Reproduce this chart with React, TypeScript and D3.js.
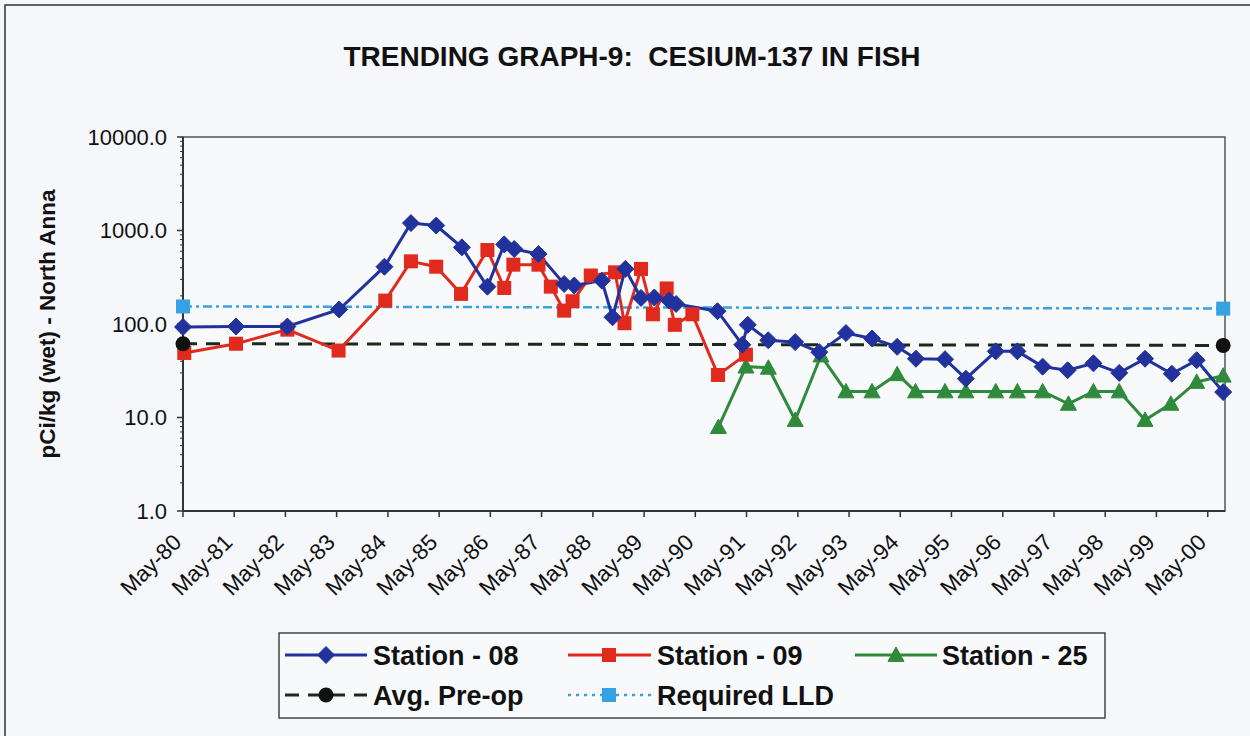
import React from "react";
import * as d3 from "d3";

// ---- Data ----
const title = "TRENDING GRAPH-9:  CESIUM-137 IN FISH";
const yAxisTitle = "pCi/kg (wet) - North Anna";
const xTickLabels = [
  "May-80", "May-81", "May-82", "May-83", "May-84", "May-85", "May-86",
  "May-87", "May-88", "May-89", "May-90", "May-91", "May-92", "May-93",
  "May-94", "May-95", "May-96", "May-97", "May-98", "May-99", "May-00",
];
const yTickValues = [1, 10, 100, 1000, 10000];
const xDomain = ["1980-05-01", "2000-09-01"];

const station08Dates = [
  "1980-05-01", "1981-05-14", "1982-05-15", "1983-05-19", "1984-04-06", "1984-10-12",
  "1985-04-10", "1985-10-10", "1986-04-10", "1986-08-08", "1986-10-18", "1987-04-09",
  "1987-10-09", "1987-12-20", "1988-07-04", "1988-09-18", "1988-12-18", "1989-04-09",
  "1989-07-13", "1989-10-25", "1989-12-15", "1990-10-06", "1991-04-01", "1991-05-10",
  "1991-10-03", "1992-04-12", "1992-10-01", "1993-04-09", "1993-10-12", "1994-04-09",
  "1994-08-21", "1995-03-16", "1995-08-12", "1996-03-12", "1996-08-13", "1997-02-09",
  "1997-08-06", "1998-02-06", "1998-08-09", "1999-02-09", "1999-08-19", "2000-02-12",
  "2000-08-19",
];
const station08Values = [
  93, 94, 94, 143, 410, 1200,
  1130, 660, 251, 710, 634, 560,
  268, 258, 291, 118, 388, 190,
  192, 178, 164, 137, 60, 98,
  67, 64, 50, 80, 70, 57,
  42.5, 42, 26, 51, 51, 35,
  32, 38, 30, 42.5, 29.4, 41,
  18.7,
];

const station09Dates = [
  "1980-05-10", "1981-05-14", "1982-05-15", "1983-05-15", "1984-04-12", "1984-10-12",
  "1985-04-10", "1985-10-04", "1986-04-10", "1986-08-08", "1986-10-12", "1987-04-09",
  "1987-07-06", "1987-10-09", "1987-12-08", "1988-04-16", "1988-10-06", "1988-12-12",
  "1989-04-09", "1989-07-03", "1989-10-09", "1989-12-06", "1990-04-10", "1990-10-10",
  "1991-04-27",
];
const station09Values = [
  49, 61.5, 87, 52, 178, 468,
  410, 210, 618, 243, 431, 431,
  251, 139, 175, 330, 357, 102,
  388, 127, 240, 98, 127, 28.5,
  47,
];

const station25Dates = [
  "1990-10-13", "1991-04-27", "1991-10-04", "1992-04-12", "1992-10-13", "1993-04-09",
  "1993-10-12", "1994-04-09", "1994-08-18", "1995-03-16", "1995-08-12", "1996-03-12",
  "1996-08-13", "1997-02-09", "1997-08-12", "1998-02-06", "1998-08-09", "1999-02-09",
  "1999-08-12", "2000-02-12", "2000-08-19",
];
const station25Values = [
  7.9, 35, 34, 9.4, 46, 19,
  19, 29, 19, 19, 19, 19,
  19, 19, 14, 19, 19, 9.4,
  14, 24, 28,
];

const avgPreopDates = ["1980-05-01", "2000-08-19"];
const avgPreopValues = [61.5, 59];
const lldDates = ["1980-05-01", "2000-08-19"];
const lldValues = [154, 146];

// ---- Layout ----
const W = 1250;
const H = 736;
const plot = { left: 183, right: 1225, top: 137, bottom: 511 };
const FONT = "'Liberation Sans', Arial, sans-serif";

const parse = d3.timeParse("%Y-%m-%d");
const parseTick = d3.timeParse("%b-%y");

type Pt = { d: Date; v: number };
const zip = (ds: string[], vs: number[]): Pt[] =>
  ds.map((s, i) => ({ d: parse(s) as Date, v: vs[i] }));

const x = d3
  .scaleTime()
  .domain(xDomain.map((s) => parse(s) as Date))
  .range([plot.left, plot.right]);
const y = d3.scaleLog().domain([1, 10000]).range([plot.bottom, plot.top]);

const line = d3
  .line<Pt>()
  .x((p) => x(p.d))
  .y((p) => y(p.v));

const BLUE = "#22329c";
const RED = "#e02a1e";
const GREEN = "#2f8a3c";
const BLACK = "#111";
const LBLUE = "#35a3e3";
const LW = 3;

function Diamond({ cx, cy, s = 8.5 }: { cx: number; cy: number; s?: number }) {
  return (
    <path
      d={`M${cx},${cy - s}L${cx + s},${cy}L${cx},${cy + s}L${cx - s},${cy}Z`}
      fill={BLUE}
      stroke={BLUE}
    />
  );
}
function Square({ cx, cy, s = 7, color = RED }: { cx: number; cy: number; s?: number; color?: string }) {
  return <rect x={cx - s} y={cy - s} width={2 * s} height={2 * s} fill={color} />;
}
function Tri({ cx, cy, s = 8 }: { cx: number; cy: number; s?: number }) {
  return (
    <path
      d={`M${cx},${cy - s}L${cx + s},${cy + s * 0.8}L${cx - s},${cy + s * 0.8}Z`}
      fill={GREEN}
      stroke={GREEN}
    />
  );
}

export default function App() {
  const s08 = zip(station08Dates, station08Values);
  const s09 = zip(station09Dates, station09Values);
  const s25 = zip(station25Dates, station25Values);
  const avg = zip(avgPreopDates, avgPreopValues);
  const lld = zip(lldDates, lldValues);

  const xTicks = xTickLabels.map((l) => ({ label: l, d: parseTick(l) as Date }));
  const minorTicks: number[] = [];
  for (let dec = 1; dec < 10000; dec *= 10) {
    for (let k = 2; k <= 9; k++) minorTicks.push(dec * k);
  }
  const fmt = d3.format(".1f");

  return (
    <svg
      width={W}
      height={H}
      style={{ position: "absolute", left: 0, top: 0 }}
      fontFamily={FONT}
    >
      <rect x={0} y={0} width={W} height={H} fill="#f6f7fa" />
      {/* outer frame (top & left visible) */}
      <path d={`M5,${H}V5H${W}`} fill="none" stroke="#333" strokeWidth={1.5} />

      {/* title */}
      <text
        x={632}
        y={66}
        textAnchor="middle"
        fontSize={28}
        fontWeight="bold"
        fill="#111"
        style={{ whiteSpace: "pre" }}
      >
        {title}
      </text>

      {/* plot area */}
      <rect
        x={plot.left}
        y={plot.top}
        width={plot.right - plot.left}
        height={plot.bottom - plot.top}
        fill="#f8f9fb"
        stroke="#555"
        strokeWidth={1.5}
      />

      {/* y axis */}
      <line x1={plot.left} x2={plot.left} y1={plot.top} y2={plot.bottom} stroke="#333" strokeWidth={2} />
      {minorTicks.map((v) => (
        <line key={"m" + v} x1={plot.left - 3} x2={plot.left} y1={y(v)} y2={y(v)} stroke="#333" strokeWidth={1} />
      ))}
      {yTickValues.map((v) => (
        <g key={"y" + v}>
          <line x1={plot.left - 6} x2={plot.left} y1={y(v)} y2={y(v)} stroke="#333" strokeWidth={1.5} />
          <text x={plot.left - 16} y={y(v)} dy="0.36em" textAnchor="end" fontSize={22} fill="#111">
            {fmt(v)}
          </text>
        </g>
      ))}
      <text
        transform={`translate(47,324) rotate(-90)`}
        dy="0.36em"
        textAnchor="middle"
        fontSize={22.5}
        fontWeight="bold"
        fill="#111"
      >
        {yAxisTitle}
      </text>

      {/* x axis */}
      <line x1={plot.left} x2={plot.right} y1={plot.bottom} y2={plot.bottom} stroke="#333" strokeWidth={2} />
      {xTicks.map((t) => (
        <g key={t.label}>
          <line x1={x(t.d)} x2={x(t.d)} y1={plot.bottom} y2={plot.bottom + 6} stroke="#333" strokeWidth={1.5} />
          <text
            transform={`translate(${x(t.d) - 6},${plot.bottom + 27}) rotate(-45)`}
            textAnchor="end"
            dy="0.36em"
            fontSize={22.5}
            fill="#111"
          >
            {t.label}
          </text>
        </g>
      ))}

      {/* reference lines */}
      <path d={line(lld) || ""} fill="none" stroke={LBLUE} strokeWidth={2.5} strokeDasharray="9 4 3 4" />
      <path d={line(avg) || ""} fill="none" stroke="#1c2a1c" strokeWidth={3} strokeDasharray="14 9" />

      {/* series */}
      <path d={line(s25) || ""} fill="none" stroke={GREEN} strokeWidth={LW} />
      <path d={line(s09) || ""} fill="none" stroke={RED} strokeWidth={LW} />
      <path d={line(s08) || ""} fill="none" stroke={BLUE} strokeWidth={LW} />

      {s25.map((p, i) => (
        <Tri key={"g" + i} cx={x(p.d)} cy={y(p.v)} />
      ))}
      {s09.map((p, i) => (
        <Square key={"r" + i} cx={x(p.d)} cy={y(p.v)} />
      ))}
      {s08.map((p, i) => (
        <Diamond key={"b" + i} cx={x(p.d)} cy={y(p.v)} />
      ))}
      {lld.map((p, i) => (
        <Square key={"l" + i} cx={x(p.d)} cy={y(p.v)} color={LBLUE} />
      ))}
      {avg.map((p, i) => (
        <circle key={"a" + i} cx={x(p.d)} cy={y(p.v)} r={7.5} fill={BLACK} />
      ))}

      {/* legend */}
      <rect x={279} y={633} width={826} height={85} fill="#f8f9fb" stroke="#444" strokeWidth={1.5} />
      <g fontSize={27} fontWeight="bold" fill="#111">
        {/* row 1 */}
        <line x1={285} x2={367} y1={655} y2={655} stroke={BLUE} strokeWidth={LW} />
        <Diamond cx={326} cy={655} />
        <text x={373} y={655} dy="0.36em">Station - 08</text>

        <line x1={568} x2={651} y1={655} y2={655} stroke={RED} strokeWidth={LW} />
        <Square cx={609} cy={655} />
        <text x={657} y={655} dy="0.36em">Station - 09</text>

        <line x1={855} x2={937} y1={655} y2={655} stroke={GREEN} strokeWidth={LW} />
        <Tri cx={896} cy={655} />
        <text x={942} y={655} dy="0.36em">Station - 25</text>

        {/* row 2 */}
        <line x1={285} x2={367} y1={695} y2={695} stroke="#1c2a1c" strokeWidth={3} strokeDasharray="14 9" />
        <circle cx={326} cy={695} r={7.5} fill={BLACK} />
        <text x={373} y={695} dy="0.36em">Avg. Pre-op</text>

        <line x1={568} x2={651} y1={695} y2={695} stroke={LBLUE} strokeWidth={2.5} strokeDasharray="3 5" />
        <Square cx={609} cy={695} color={LBLUE} />
        <text x={657} y={695} dy="0.36em">Required LLD</text>
      </g>
    </svg>
  );
}
